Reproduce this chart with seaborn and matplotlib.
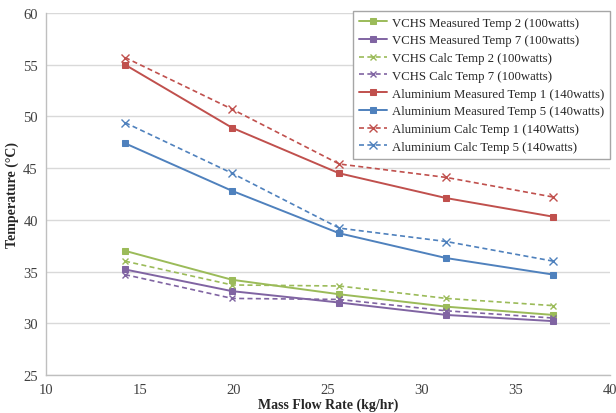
import matplotlib
matplotlib.use('Agg')
import matplotlib.pyplot as plt
import seaborn as sns
import pandas as pd

sns.set_style("white")
plt.rcParams['font.family'] = ['Liberation Serif', 'DejaVu Serif']

# mass flow rate (kg/hr)
flow = [14.2, 19.9, 25.6, 31.3, 37.0]

vchs_meas_t2 = [37.0, 34.2, 32.8, 31.6, 30.8]
vchs_meas_t7 = [35.2, 33.1, 32.0, 30.8, 30.2]
vchs_calc_t2 = [36.0, 33.7, 33.6, 32.4, 31.7]
vchs_calc_t7 = [34.7, 32.4, 32.3, 31.2, 30.5]
alu_meas_t1 = [55.0, 48.9, 44.5, 42.1, 40.3]
alu_meas_t5 = [47.4, 42.8, 38.7, 36.3, 34.7]
alu_calc_t1 = [55.7, 50.7, 45.4, 44.1, 42.2]
alu_calc_t5 = [49.4, 44.5, 39.2, 37.9, 36.0]

labels = ["VCHS Measured Temp 2 (100watts)",
          "VCHS Measured Temp 7 (100watts)",
          "VCHS Calc Temp 2 (100watts)",
          "VCHS Calc Temp 7 (100watts)",
          "Aluminium Measured Temp 1 (140watts)",
          "Aluminium Measured Temp 5 (140watts)",
          "Aluminium Calc Temp 1 (140Watts)",
          "Aluminium Calc Temp 5 (140watts)"]

series = [vchs_meas_t2, vchs_meas_t7, vchs_calc_t2, vchs_calc_t7,
          alu_meas_t1, alu_meas_t5, alu_calc_t1, alu_calc_t5]

green = "#9BBB59"
purple = "#8064A2"
red = "#C0504D"
blue = "#4F81BD"

# (colour, measured?, marker size)
styles = [(green, True, 5), (purple, True, 5), (green, False, 4), (purple, False, 5),
          (red, True, 4), (blue, True, 4), (red, False, 6), (blue, False, 6)]

fig, ax = plt.subplots(figsize=(6.16, 4.14), dpi=100)

for lab, vals, (col, meas, ms) in zip(labels, series, styles):
    df = pd.DataFrame({"flow": flow, "temp": vals})
    if meas:
        sns.lineplot(data=df, x="flow", y="temp", ax=ax, color=col, lw=1.4,
                     marker="s", markersize=ms, markeredgecolor=col, label=lab)
    else:
        sns.lineplot(data=df, x="flow", y="temp", ax=ax, color=col, lw=1.2,
                     dashes=False, linestyle=(0, (3, 2)), marker="x", markersize=ms,
                     markeredgewidth=1.0, markeredgecolor=col, label=lab)

ax.set_xlim(10, 40)
ax.set_ylim(25, 60)
ax.set_xticks(range(10, 41, 5))
ax.set_yticks(range(25, 61, 5))
ax.yaxis.grid(True, color="#D9D9D9", lw=1)
ax.set_axisbelow(True)

for s in ["top", "right"]:
    ax.spines[s].set_visible(False)
for s in ["left", "bottom"]:
    ax.spines[s].set_color("#BFBFBF")
    ax.spines[s].set_linewidth(1)

ax.tick_params(axis="both", labelsize=10.5, colors="#404040", length=4,
               color="#BFBFBF", direction="out", pad=2)
ax.set_xlabel("Mass Flow Rate (kg/hr)", fontsize=10, fontweight="bold", labelpad=1)
ax.set_ylabel("Temperature (°C)", fontsize=10, fontweight="bold", labelpad=3)

leg = ax.legend(loc="upper right", bbox_to_anchor=(1.0, 1.006), borderaxespad=0,
                fontsize=9.2, frameon=True, fancybox=False, framealpha=1,
                edgecolor="#A6A6A6", handlelength=2.2, handletextpad=0.4,
                labelspacing=0.45, borderpad=0.45, numpoints=1)
leg.get_frame().set_linewidth(1)

fig.subplots_adjust(left=0.075, right=0.99, top=0.966, bottom=0.092)
plt.savefig("out.png")
plt.close(fig)
